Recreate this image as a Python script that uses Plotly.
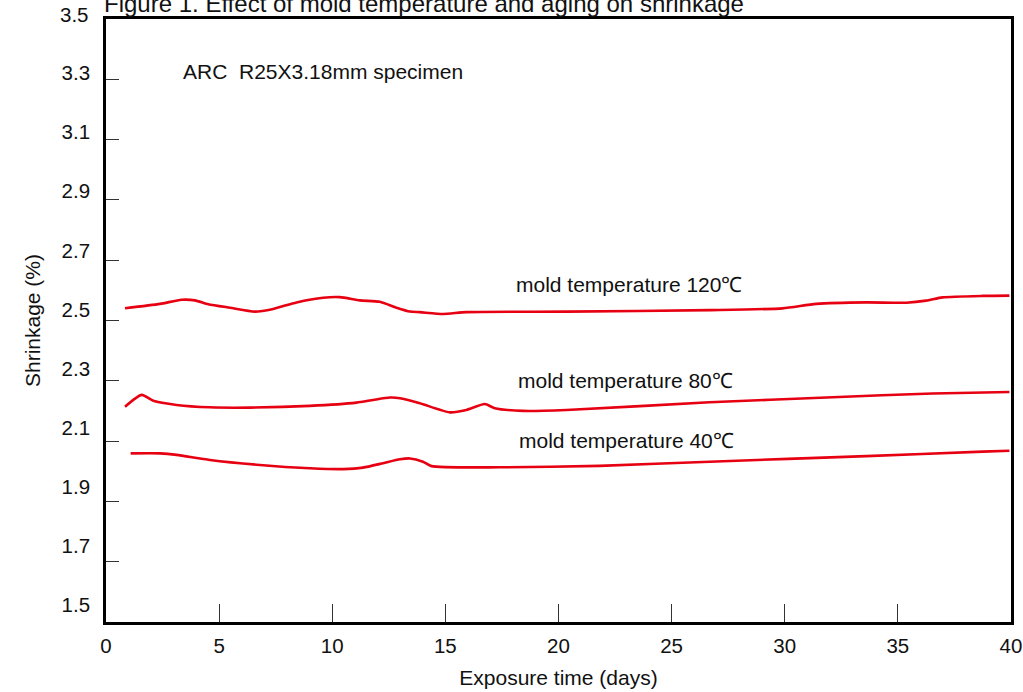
import plotly.graph_objects as go

# Exposure time (days) and shrinkage (%) for each mold temperature
days_120 = [0.84, 2.39, 3.34, 3.93, 4.52, 5.48, 6.58, 7.39, 8.42, 9.60, 10.34, 11.22,
            12.10, 12.84, 13.43, 13.87, 14.90, 15.93, 20.35, 26.68, 29.90, 31.39,
            33.60, 35.37, 36.25, 36.98, 38.75, 39.93]
shrink_120 = [2.504, 2.519, 2.533, 2.531, 2.518, 2.506, 2.493, 2.502, 2.524, 2.540, 2.542, 2.531,
              2.526, 2.506, 2.493, 2.491, 2.485, 2.491, 2.493, 2.498, 2.504, 2.519,
              2.524, 2.523, 2.530, 2.541, 2.546, 2.547]

days_80 = [0.84, 1.58, 2.09, 3.12, 4.59, 6.36, 9.01, 11.07, 11.81, 12.54, 12.99, 13.87,
           15.19, 15.93, 16.74, 17.18, 18.43, 20.35, 26.68, 32.12, 36.54, 39.93]
shrink_80 = [2.171, 2.211, 2.191, 2.177, 2.169, 2.168, 2.174, 2.185, 2.194, 2.202, 2.200, 2.183,
             2.152, 2.160, 2.180, 2.166, 2.157, 2.160, 2.186, 2.203, 2.216, 2.221]

days_40 = [1.09, 2.39, 3.12, 4.59, 6.80, 9.01, 10.48, 11.36, 12.25, 12.99, 13.43, 14.01,
           14.39, 17.40, 21.82, 26.68, 33.60, 38.75, 39.93]
shrink_40 = [2.013, 2.013, 2.008, 1.991, 1.974, 1.963, 1.960, 1.965, 1.980, 1.993, 1.996, 1.985,
             1.970, 1.966, 1.971, 1.985, 2.004, 2.019, 2.022]

x_ticks = [0, 5, 10, 15, 20, 25, 30, 35, 40]
y_labels = [1.5, 1.7, 1.9, 2.1, 2.3, 2.5, 2.7, 2.9, 3.1, 3.3, 3.5]

series_names = ["mold temperature 120℃", "mold temperature 80℃", "mold temperature 40℃"]

RED = "rgb(230,0,18)"
FONT = "Liberation Sans, Arial, sans-serif"
TXT = "#111"
W, H = 1023, 692
M = dict(l=106, r=12, t=19, b=70)
Y_LO, Y_HI = 1.4425, 3.4831
px_per_unit = (H - M["t"] - M["b"]) / (Y_HI - Y_LO)

fig = go.Figure()
for xs, ys, name in [(days_120, shrink_120, series_names[0]),
                     (days_80, shrink_80, series_names[1]),
                     (days_40, shrink_40, series_names[2])]:
    fig.add_trace(go.Scatter(x=xs, y=ys, mode="lines", name=name,
                             line=dict(color=RED, width=2.6, shape="spline", smoothing=0.6),
                             showlegend=False))

# Invisible trace on an overlaid axis that carries the evenly spaced frame tick marks
fig.add_trace(go.Scatter(x=[0], y=[0], yaxis="y2", mode="markers",
                         marker=dict(opacity=0), showlegend=False, hoverinfo="skip"))

in_range = [v for v in y_labels if v <= Y_HI]
fig.update_layout(
    width=W, height=H,
    margin=M,
    paper_bgcolor="white", plot_bgcolor="white",
    font=dict(family=FONT, size=20, color=TXT),
    xaxis=dict(range=[0, 40], tickvals=x_ticks, ticks="inside", ticklen=18, tickwidth=1.2,
               tickcolor="#333", showline=True, linecolor="black", linewidth=2.6, mirror=True,
               showgrid=False, zeroline=False, ticklabelstandoff=4, automargin=False,
               tickfont=dict(size=20.5),
               title=dict(text="Exposure time (days)", standoff=14,
                          font=dict(family=FONT, size=21, color=TXT))),
    yaxis=dict(range=[Y_LO, Y_HI], tickvals=in_range, ticktext=[f"{v:.1f}" for v in in_range],
               ticks="", showline=True, linecolor="black", linewidth=2.6, mirror=True,
               showgrid=False, zeroline=False, ticklabelstandoff=9, automargin=False,
               tickfont=dict(size=20.5),
               title=dict(text="Shrinkage (%)", standoff=16,
                          font=dict(family=FONT, size=21, color=TXT))),
    yaxis2=dict(range=[0, 10], overlaying="y", side="left", tickvals=list(range(1, 10)),
                ticks="inside", ticklen=13, tickwidth=1.2, tickcolor="#333", automargin=False,
                showticklabels=False, showgrid=False, zeroline=False, showline=False),
)

# Top tick label sits just above the frame, placed on the same scale as the y axis
for v in y_labels:
    if v > Y_HI:
        fig.add_annotation(x=0, xref="paper", y=1, yref="paper", text=f"{v:.1f}", showarrow=False,
                           xanchor="right", yanchor="middle", xshift=-15,
                           yshift=(v - Y_HI) * px_per_unit,
                           font=dict(family=FONT, size=20.5, color=TXT))

fig.add_annotation(x=3.30, y=3.305, text="ARC\u00a0\u00a0R25X3.18mm specimen", showarrow=False,
                   xanchor="left", yanchor="middle", font=dict(family=FONT, size=21, color=TXT))
for name, xv, yv in [(series_names[0], 18.02, 2.583),
                     (series_names[1], 18.10, 2.261),
                     (series_names[2], 18.17, 2.058)]:
    fig.add_annotation(x=xv, y=yv, text=name, showarrow=False, xanchor="left", yanchor="middle",
                       font=dict(family=FONT, size=21, color=TXT))

fig.add_annotation(x=0, xref="paper", y=1, yref="paper", xanchor="left", yanchor="middle",
                   xshift=-4, yshift=16, showarrow=False,
                   text="Figure 1. Effect of mold temperature and aging on shrinkage",
                   font=dict(family=FONT, size=24, color=TXT))

fig.write_html("out.html")
